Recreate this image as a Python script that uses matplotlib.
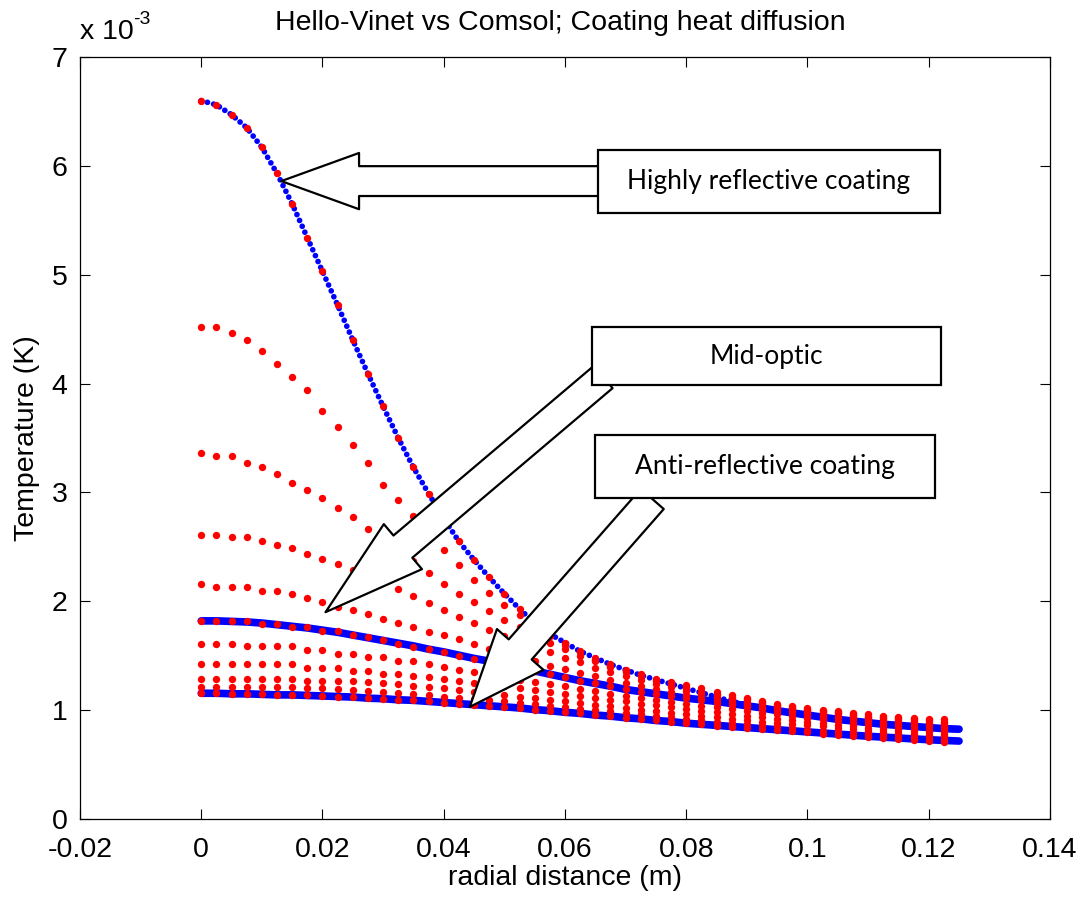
#!/usr/bin/env python3

# Hello-Vinet vs Comsol, temperature vs radial distance for coating absorption

import matplotlib as mpl

mpl.use("Agg")
import matplotlib.pyplot as plt
import numpy as np
from matplotlib.patches import FancyArrowPatch, Rectangle

plt.rcParams["font.family"] = ["Liberation Sans", "DejaVu Sans"]

# radial sample positions (m)
r_comsol = np.linspace(0, 0.1225, 50)
r_hv = np.linspace(0, 0.125, 51)

# Hello-Vinet curves (temperature in units of 1e-3 K)
hv_hr = [
    6.60, 6.56, 6.47, 6.35, 6.17, 5.93, 5.65, 5.34, 5.03, 4.72,
    4.40, 4.09, 3.79, 3.50, 3.23, 2.99, 2.76, 2.55, 2.38, 2.22,
    2.07, 1.93, 1.80, 1.70, 1.62, 1.54, 1.48, 1.42, 1.37, 1.32,
    1.28, 1.24, 1.20, 1.16, 1.12, 1.08, 1.05, 1.02, 0.995, 0.97,
    0.95, 0.93, 0.91, 0.895, 0.88, 0.865, 0.855, 0.845, 0.835, 0.825,
    0.82,
]
hv_mid = [
    1.82, 1.82, 1.815, 1.81, 1.80, 1.785, 1.77, 1.755, 1.735, 1.715,
    1.69, 1.665, 1.64, 1.615, 1.59, 1.56, 1.535, 1.505, 1.475, 1.45,
    1.42, 1.39, 1.36, 1.33, 1.30, 1.27, 1.245, 1.22, 1.19, 1.17,
    1.15, 1.13, 1.11, 1.095, 1.08, 1.06, 1.04, 1.02, 0.995, 0.975,
    0.955, 0.935, 0.915, 0.90, 0.885, 0.87, 0.86, 0.85, 0.84, 0.83,
    0.825,
]
hv_ar = [
    1.155, 1.155, 1.15, 1.15, 1.145, 1.14, 1.14, 1.135, 1.13, 1.125,
    1.12, 1.11, 1.105, 1.095, 1.09, 1.08, 1.07, 1.06, 1.05, 1.04,
    1.03, 1.02, 1.005, 0.995, 0.98, 0.97, 0.955, 0.945, 0.93, 0.92,
    0.905, 0.895, 0.88, 0.87, 0.86, 0.85, 0.84, 0.83, 0.82, 0.81,
    0.80, 0.79, 0.78, 0.77, 0.76, 0.752, 0.744, 0.736, 0.728, 0.722,
    0.716,
]

# Comsol curves at increasing depth (temperature in units of 1e-3 K)
comsol_1 = [
    6.60, 6.56, 6.47, 6.35, 6.17, 5.93, 5.65, 5.34, 5.03, 4.72,
    4.40, 4.09, 3.79, 3.50, 3.23, 2.99, 2.76, 2.55, 2.38, 2.22,
    2.07, 1.93, 1.80, 1.70, 1.62, 1.54, 1.48, 1.42, 1.37, 1.33,
    1.29, 1.26, 1.23, 1.20, 1.17, 1.14, 1.11, 1.08, 1.06, 1.04,
    1.02, 1.00, 0.99, 0.975, 0.965, 0.95, 0.94, 0.93, 0.92, 0.915,
]
comsol_2 = [
    4.52, 4.52, 4.46, 4.40, 4.30, 4.18, 4.06, 3.94, 3.75, 3.60,
    3.44, 3.27, 3.07, 2.93, 2.78, 2.62, 2.47, 2.33, 2.20, 2.08,
    1.97, 1.87, 1.77, 1.68, 1.60, 1.53, 1.46, 1.41, 1.36, 1.32,
    1.28, 1.245, 1.21, 1.18, 1.15, 1.125, 1.10, 1.075, 1.05, 1.03,
    1.01, 0.995, 0.98, 0.965, 0.95, 0.94, 0.93, 0.915, 0.905, 0.895,
]
comsol_3 = [
    3.36, 3.33, 3.33, 3.27, 3.23, 3.17, 3.09, 3.02, 2.95, 2.86,
    2.77, 2.66, 2.57, 2.47, 2.37, 2.26, 2.16, 2.07, 1.99, 1.91,
    1.83, 1.76, 1.69, 1.62, 1.56, 1.50, 1.45, 1.40, 1.35, 1.31,
    1.27, 1.235, 1.20, 1.17, 1.14, 1.115, 1.09, 1.065, 1.04, 1.02,
    1.00, 0.985, 0.97, 0.955, 0.94, 0.925, 0.915, 0.90, 0.89, 0.88,
]
comsol_4 = [
    2.61, 2.61, 2.59, 2.59, 2.55, 2.52, 2.49, 2.43, 2.39, 2.34,
    2.29, 2.24, 2.18, 2.11, 2.05, 1.98, 1.92, 1.86, 1.80, 1.74,
    1.68, 1.63, 1.58, 1.53, 1.48, 1.44, 1.39, 1.35, 1.31, 1.28,
    1.24, 1.21, 1.18, 1.15, 1.12, 1.095, 1.07, 1.05, 1.03, 1.01,
    0.99, 0.975, 0.96, 0.945, 0.93, 0.915, 0.90, 0.89, 0.875, 0.865,
]
comsol_5 = [
    2.16, 2.13, 2.13, 2.13, 2.09, 2.09, 2.07, 2.03, 1.99, 1.95,
    1.92, 1.88, 1.84, 1.80, 1.76, 1.72, 1.69, 1.65, 1.61, 1.56,
    1.52, 1.48, 1.45, 1.41, 1.38, 1.34, 1.31, 1.28, 1.25, 1.22,
    1.19, 1.165, 1.14, 1.115, 1.09, 1.07, 1.05, 1.03, 1.01, 0.99,
    0.97, 0.955, 0.94, 0.925, 0.91, 0.90, 0.885, 0.875, 0.86, 0.85,
]
comsol_6 = [
    1.82, 1.82, 1.82, 1.82, 1.79, 1.79, 1.76, 1.76, 1.73, 1.73,
    1.69, 1.67, 1.645, 1.61, 1.58, 1.56, 1.53, 1.50, 1.47, 1.45,
    1.42, 1.39, 1.36, 1.33, 1.30, 1.27, 1.245, 1.22, 1.19, 1.17,
    1.15, 1.13, 1.11, 1.09, 1.07, 1.05, 1.03, 1.015, 0.995, 0.98,
    0.96, 0.945, 0.93, 0.915, 0.90, 0.885, 0.87, 0.86, 0.85, 0.84,
]
comsol_7 = [
    1.61, 1.61, 1.61, 1.59, 1.59, 1.59, 1.59, 1.55, 1.55, 1.52,
    1.52, 1.49, 1.49, 1.45, 1.45, 1.42, 1.40, 1.37, 1.35, 1.33,
    1.31, 1.28, 1.26, 1.24, 1.22, 1.195, 1.175, 1.15, 1.13, 1.11,
    1.095, 1.075, 1.06, 1.04, 1.025, 1.01, 0.99, 0.975, 0.96, 0.945,
    0.93, 0.915, 0.90, 0.885, 0.87, 0.86, 0.845, 0.835, 0.82, 0.81,
]
comsol_8 = [
    1.42, 1.42, 1.42, 1.42, 1.42, 1.42, 1.42, 1.39, 1.39, 1.39,
    1.36, 1.36, 1.33, 1.33, 1.31, 1.30, 1.29, 1.27, 1.25, 1.235,
    1.22, 1.20, 1.185, 1.165, 1.15, 1.13, 1.115, 1.095, 1.08, 1.06,
    1.045, 1.03, 1.01, 0.995, 0.98, 0.965, 0.95, 0.935, 0.92, 0.905,
    0.89, 0.88, 0.865, 0.855, 0.84, 0.83, 0.815, 0.805, 0.795, 0.785,
]
comsol_9 = [
    1.29, 1.29, 1.29, 1.29, 1.29, 1.29, 1.29, 1.27, 1.27, 1.27,
    1.27, 1.26, 1.25, 1.24, 1.22, 1.21, 1.20, 1.185, 1.17, 1.155,
    1.14, 1.125, 1.11, 1.095, 1.08, 1.065, 1.05, 1.035, 1.02, 1.005,
    0.99, 0.975, 0.96, 0.95, 0.935, 0.92, 0.91, 0.895, 0.885, 0.87,
    0.86, 0.85, 0.835, 0.825, 0.81, 0.80, 0.79, 0.78, 0.77, 0.76,
]
comsol_10 = [
    1.21, 1.21, 1.21, 1.21, 1.21, 1.21, 1.21, 1.20, 1.20, 1.195,
    1.185, 1.175, 1.17, 1.16, 1.145, 1.135, 1.12, 1.11, 1.10, 1.09,
    1.08, 1.065, 1.055, 1.04, 1.03, 1.015, 1.00, 0.99, 0.97, 0.96,
    0.945, 0.935, 0.92, 0.91, 0.895, 0.885, 0.87, 0.86, 0.85, 0.835,
    0.82, 0.81, 0.80, 0.79, 0.78, 0.77, 0.76, 0.75, 0.74, 0.73,
]
comsol_11 = [
    1.155, 1.155, 1.15, 1.15, 1.145, 1.14, 1.14, 1.135, 1.13, 1.125,
    1.12, 1.11, 1.105, 1.095, 1.09, 1.08, 1.07, 1.06, 1.05, 1.04,
    1.03, 1.02, 1.005, 0.995, 0.98, 0.97, 0.955, 0.945, 0.93, 0.92,
    0.905, 0.895, 0.88, 0.87, 0.855, 0.845, 0.835, 0.825, 0.815, 0.805,
    0.795, 0.785, 0.775, 0.765, 0.755, 0.745, 0.735, 0.725, 0.715, 0.705,
]

x_ticks = [-0.02, 0, 0.02, 0.04, 0.06, 0.08, 0.1, 0.12, 0.14]
x_tick_labels = ["-0.02", "0", "0.02", "0.04", "0.06", "0.08", "0.1", "0.12", "0.14"]
y_ticks = [0, 1, 2, 3, 4, 5, 6, 7]

# annotation callouts: label, box (r0, r1, T0, T1), arrow tail, arrow tip
callouts = [
    ("Highly reflective coating", (0.0654, 0.1218, 5.565, 6.143), (0.0660, 5.86), (0.0132, 5.86)),
    ("Mid-optic", (0.0645, 0.1220, 3.985, 4.518), (0.0663, 4.06), (0.0205, 1.90)),
    ("Anti-reflective coating", (0.0650, 0.1211, 2.948, 3.526), (0.0744, 2.94), (0.0443, 1.03)),
]
# arrow shapes in points: tail width, head width, head length
arrow_shapes = [(21.5, 40.5, 56.0), (21.0, 42.5, 73.0), (22.0, 44.5, 55.0)]


def main():
    fig = plt.figure(figsize=(10.84, 8.99), dpi=100)
    ax = fig.add_axes([0.0738, 0.0890, 0.8948, 0.8476])

    # Hello-Vinet: dense blue dots
    ax.plot(r_hv, hv_hr, color="#0000ff", lw=4.1, linestyle=(0, (0.01, 1.12)),
            dash_capstyle="round", zorder=2)
    ax.plot(r_hv, hv_mid, color="#0000ff", lw=5.5, solid_capstyle="round", zorder=2)
    ax.plot(r_hv, hv_ar, color="#0000ff", lw=5.5, solid_capstyle="round", zorder=2)

    # Comsol: red dots
    for series in [comsol_1, comsol_2, comsol_3, comsol_4, comsol_5, comsol_6,
                   comsol_7, comsol_8, comsol_9, comsol_10, comsol_11]:
        ax.plot(r_comsol, series, linestyle="none", marker="o", ms=5.3,
                mfc="#ff0000", mec="#ff0000", mew=0, zorder=3)

    ax.set_xlim(-0.02, 0.14)
    ax.set_ylim(0, 7)
    ax.set_xticks(x_ticks)
    ax.set_xticklabels(x_tick_labels)
    ax.set_yticks(y_ticks)
    ax.tick_params(direction="in", top=True, right=True, length=7, width=0.8,
                   labelsize=20.5)
    ax.tick_params(axis="x", pad=13)
    ax.tick_params(axis="y", pad=9)
    for spine in ax.spines.values():
        spine.set_linewidth(0.9)

    ax.set_xlabel("radial distance (m)", fontsize=20.5, va="center")
    ax.xaxis.set_label_coords(0.5, -0.0775)
    ax.set_ylabel("Temperature (K)", fontsize=20.5, va="center")
    ax.yaxis.set_label_coords(-0.0545, 0.5)

    fig.text(0.517, 0.9745, "Hello-Vinet vs Comsol; Coating heat diffusion",
             ha="center", va="center", fontsize=20.5)
    fig.text(80 / 1084, 1 - 32 / 899, "x 10", ha="left", va="center", fontsize=20.5)
    fig.text(133 / 1084, 1 - 19 / 899, "-3", ha="left", va="center", fontsize=14)

    # block arrows and boxed labels
    for (label, box, tail, tip), (tw, hw, hl) in zip(callouts, arrow_shapes):
        arrow = FancyArrowPatch(
            tail, tip,
            arrowstyle=f"simple,head_length={hl},head_width={hw},tail_width={tw}",
            mutation_scale=1, shrinkA=0, shrinkB=0,
            facecolor="white", edgecolor="black", lw=1.6, zorder=5, clip_on=False,
        )
        ax.add_patch(arrow)
        r0, r1, t0, t1 = box
        ax.add_patch(Rectangle((r0, t0), r1 - r0, t1 - t0, facecolor="white",
                               edgecolor="black", lw=1.6, zorder=6, clip_on=False))
        ax.text((r0 + r1) / 2, (t0 + t1) / 2, label, ha="center", va="center",
                fontsize=19, family=["Lato", "DejaVu Sans"], zorder=7)

    fig.savefig("out.png", dpi=100)


if __name__ == "__main__":
    main()
